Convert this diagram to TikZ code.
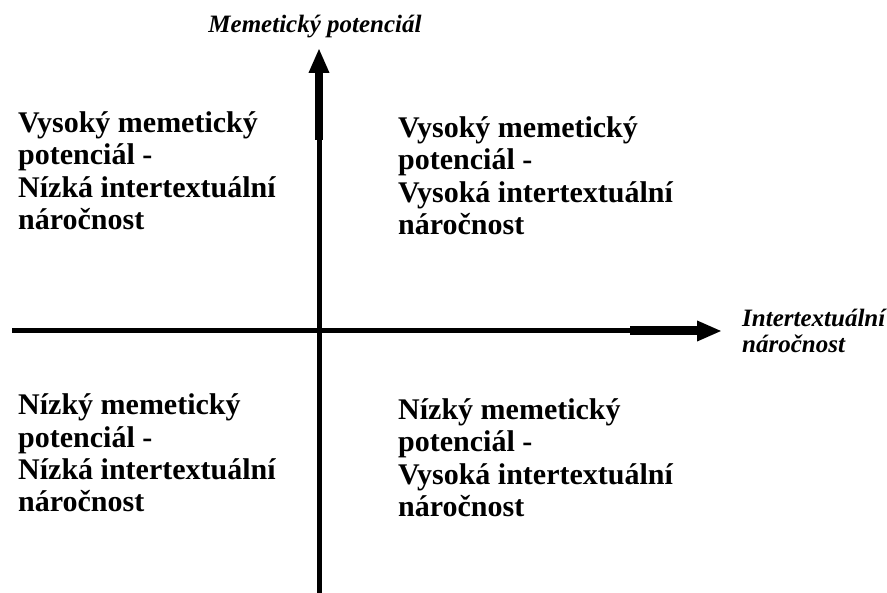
\documentclass[tikz,border=0pt]{standalone}
\usepackage{fontspec}
\setmainfont{Liberation Serif}
\usetikzlibrary{arrows.meta}

\tikzset{
  quadtext/.style={align=left, anchor=base west, inner sep=0pt,
    font=\fontsize{30}{32.5}\selectfont\bfseries},
  axislabel/.style={inner sep=0pt, font=\fontsize{25}{26}\selectfont\bfseries\itshape},
  axisthin/.style={line width=5pt},
  axisthick/.style={line width=9pt, -{Triangle[length=25pt,width=19pt]}}
}

\begin{document}
\begin{tikzpicture}[x=1pt,y=-1pt]
  \useasboundingbox (0,0) rectangle (887,593);

  % axes
  \coordinate (hstart) at (12,331);
  \coordinate (hmid) at (630,331);
  \coordinate (htip) at (722,331);
  \coordinate (vstart) at (319,593);
  \coordinate (vmid) at (319,140);
  \coordinate (vtip) at (319,48);
  \draw [axisthin] (hstart) -- (hmid);
  \draw [axisthick] (hmid) -- (htip);
  \draw [axisthin] (vstart) -- (vmid);
  \draw [axisthick, line width=8pt] (vmid) -- (vtip);

  % axis labels (base anchor = last line)
  \node [axislabel, anchor=base] (ylab) at (315,33) {Memetický potenciál};
  \node [axislabel, anchor=base west, align=left] (xlab) at (742,353)
    {Intertextuální\\náročnost};

  % quadrants
  \node [quadtext] (q2) at (18,230)
    {Vysoký memetický\\potenciál -\\Nízká intertextuální\\náročnost};
  \node [quadtext] (q1) at (398,235)
    {Vysoký memetický\\potenciál -\\Vysoká intertextuální\\náročnost};
  \node [quadtext] (q3) at (18,512)
    {Nízký memetický\\potenciál -\\Nízká intertextuální\\náročnost};
  \node [quadtext] (q4) at (398,517)
    {Nízký memetický\\potenciál -\\Vysoká intertextuální\\náročnost};
\end{tikzpicture}
\end{document}
